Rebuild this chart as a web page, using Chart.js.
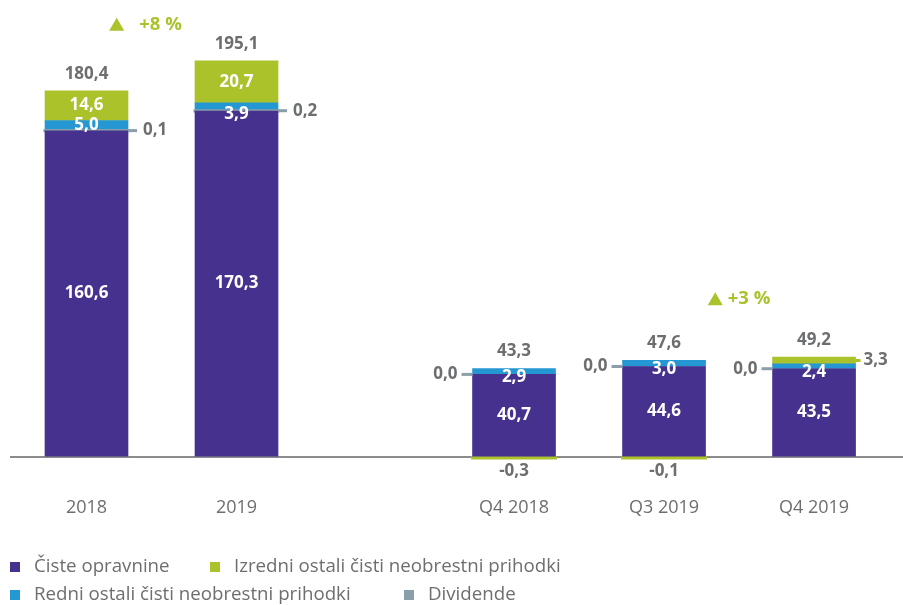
<!DOCTYPE html>
<html>
<head>
<meta charset="utf-8">
<script src="https://cdn.jsdelivr.net/npm/chart.js@4"></script>
<style>
  html, body { margin: 0; padding: 0; background: #fff; }
</style>
</head>
<body>
<canvas id="chart" width="903" height="605"></canvas>
<script>
  // data
  var categories = ['2018', '2019', 'Q4 2018', 'Q3 2019', 'Q4 2019']
  var opravnine = [160.6, 170.3, 40.7, 44.6, 43.5]
  var dividende = [0.1, 0.2, 0.0, 0.0, 0.0]
  var redni = [5.0, 3.9, 2.9, 3.0, 2.4]
  var izredni = [14.6, 20.7, -0.3, -0.1, 3.3]
  var totals = [180.4, 195.1, 43.3, 47.6, 49.2]
  var growthLabels = ['+8 %', '+3 %']
  var growthPairs = [[0, 1], [3, 4]]

  var PURPLE = '#46318f', GREY = '#8a9fa9', BLUE = '#2597d3', GREEN = '#abc22b'
  var TEXT = '#6d6e70'
  var FONT = '"Open Sans", "Noto Sans", sans-serif'

  // annual and quarterly groups with a wider gap between them
  var slot = categories.map(function (c, i) { return i < 2 ? i : i + 0.85 })

  function pts(arr) {
    return arr.map(function (v, i) { return { x: slot[i], y: v } })
  }
  function fmt(v) {
    return v.toFixed(1).replace('.', ',')
  }
  function thin(ctx) {
    var v = ctx.raw ? ctx.raw.y : 0
    return v !== 0 && Math.abs(v) < 0.5 ? 1.5 : 'auto'
  }

  var labelPlugin = {
    id: 'labels',
    afterDatasetsDraw: function (chart) {
      var c = chart.ctx
      var y0 = chart.scales.y.getPixelForValue(0)
      c.save()
      c.textBaseline = 'middle'
      c.font = 'bold 17px ' + FONT

      chart.data.datasets.forEach(function (ds, di) {
        chart.getDatasetMeta(di).data.forEach(function (bar, i) {
          var v = ds.data[i].y
          var top = Math.min(bar.y, bar.base), bottom = Math.max(bar.y, bar.base)
          var h = bottom - top
          var left = bar.x - bar.width / 2, right = bar.x + bar.width / 2
          var mid = (top + bottom) / 2

          if (di === 0) {
            c.fillStyle = '#fff'; c.textAlign = 'center'
            c.fillText(fmt(v), bar.x, mid)
          } else if (di === 1) {
            c.strokeStyle = GREY; c.lineWidth = 3
            c.fillStyle = TEXT
            c.beginPath()
            if (i < 2) {
              c.moveTo(right, bar.y); c.lineTo(right + 9, bar.y); c.stroke()
              c.textAlign = 'left'; c.fillText(fmt(v), right + 15, bar.y)
            } else {
              c.moveTo(left - 11, bar.y); c.lineTo(left, bar.y); c.stroke()
              c.textAlign = 'right'; c.fillText(fmt(v), left - 15, bar.y)
            }
          } else if (di === 2) {
            c.fillStyle = '#fff'; c.textAlign = 'center'
            c.fillText(fmt(v), bar.x, h < 8 ? bottom + 3 : mid)
          } else {
            if (v < 0) {
              c.fillStyle = TEXT; c.textAlign = 'center'
              c.fillText(fmt(v), bar.x, y0 + 14)
            } else if (h < 14) {
              c.strokeStyle = GREEN; c.lineWidth = 3
              c.beginPath(); c.moveTo(right, mid); c.lineTo(right + 5, mid); c.stroke()
              c.fillStyle = TEXT; c.textAlign = 'left'
              c.fillText(fmt(v), right + 8, mid)
            } else {
              c.fillStyle = '#fff'; c.textAlign = 'center'
              c.fillText(fmt(v), bar.x, mid)
            }
          }
        })
      })

      // totals above each column
      var tops = categories.map(function (cat, i) {
        var t = y0
        chart.data.datasets.forEach(function (ds, di) {
          var b = chart.getDatasetMeta(di).data[i]
          t = Math.min(t, b.y, b.base)
        })
        return t
      })
      c.fillStyle = TEXT; c.textAlign = 'center'
      totals.forEach(function (v, i) {
        var b = chart.getDatasetMeta(0).data[i]
        c.fillText(fmt(v), b.x, tops[i] - 17)
      })

      // growth notes
      var noteShift = [{ dx: -16, dy: -36, gap: 15 }, { dx: 0, dy: -58, gap: 5 }]
      growthLabels.forEach(function (txt, k) {
        var a = chart.getDatasetMeta(0).data[growthPairs[k][0]]
        var b = chart.getDatasetMeta(0).data[growthPairs[k][1]]
        var s = noteShift[k]
        c.font = 'bold 18.5px ' + FONT
        var tw = c.measureText(txt).width
        var total = 15 + s.gap + tw
        var cx = (a.x + b.x) / 2 + s.dx
        var cy = Math.min(tops[growthPairs[k][0]], tops[growthPairs[k][1]]) + s.dy
        var x = cx - total / 2
        c.fillStyle = GREEN
        c.beginPath()
        c.moveTo(x, cy + 6); c.lineTo(x + 15, cy + 6); c.lineTo(x + 7.5, cy - 7)
        c.closePath(); c.fill()
        c.textAlign = 'left'
        c.fillText(txt, x + 15 + s.gap, cy)
      })
      c.restore()
    }
  }

  var legendPlugin = {
    id: 'gridLegend',
    afterDraw: function (chart) {
      var c = chart.ctx
      var items = [
        { ds: 0, x: 10, y: 567 },
        { ds: 3, x: 210, y: 567 },
        { ds: 2, x: 10, y: 595 },
        { ds: 1, x: 404, y: 595 }
      ]
      c.save()
      c.font = '18.7px ' + FONT
      c.textBaseline = 'middle'
      c.textAlign = 'left'
      items.forEach(function (it) {
        var ds = chart.data.datasets[it.ds]
        c.fillStyle = ds.backgroundColor
        c.fillRect(it.x, it.y - 5, 10, 10)
        c.fillStyle = TEXT
        c.fillText(ds.label, it.x + 24, it.y)
      })
      c.restore()
    }
  }

  var chart = new Chart(document.getElementById('chart'), {
    type: 'bar',
    data: {
      datasets: [
        { label: 'Čiste opravnine', data: pts(opravnine), backgroundColor: PURPLE },
        { label: 'Dividende', data: pts(dividende), backgroundColor: GREY, inflateAmount: thin },
        { label: 'Redni ostali čisti neobrestni prihodki', data: pts(redni), backgroundColor: BLUE },
        { label: 'Izredni ostali čisti neobrestni prihodki', data: pts(izredni), backgroundColor: GREEN, inflateAmount: thin }
      ]
    },
    options: {
      responsive: false,
      animation: false,
      devicePixelRatio: 1,
      barThickness: 83,
      layout: { padding: { left: 10, right: 0, top: 0, bottom: 74 } },
      scales: {
        x: {
          type: 'linear',
          stacked: true,
          offset: false,
          min: -0.51,
          max: 5.443,
          grid: { display: false },
          border: { display: false },
          afterBuildTicks: function (scale) {
            scale.ticks = slot.map(function (v) { return { value: v } })
          },
          ticks: {
            autoSkip: false,
            maxRotation: 0,
            padding: 12,
            color: TEXT,
            font: { family: FONT, size: 18 },
            callback: function (value, index) { return categories[index] }
          }
        },
        y: {
          stacked: true,
          min: -10,
          max: 225,
          ticks: { display: false, stepSize: 10 },
          border: { display: false },
          grid: {
            drawTicks: false,
            lineWidth: 2,
            color: function (ctx) { return ctx.tick && ctx.tick.value === 0 ? '#8c8c8c' : 'rgba(0,0,0,0)' }
          }
        }
      },
      plugins: {
        legend: { display: false },
        tooltip: { enabled: false }
      }
    },
    plugins: [labelPlugin, legendPlugin]
  })
</script>
</body>
</html>
